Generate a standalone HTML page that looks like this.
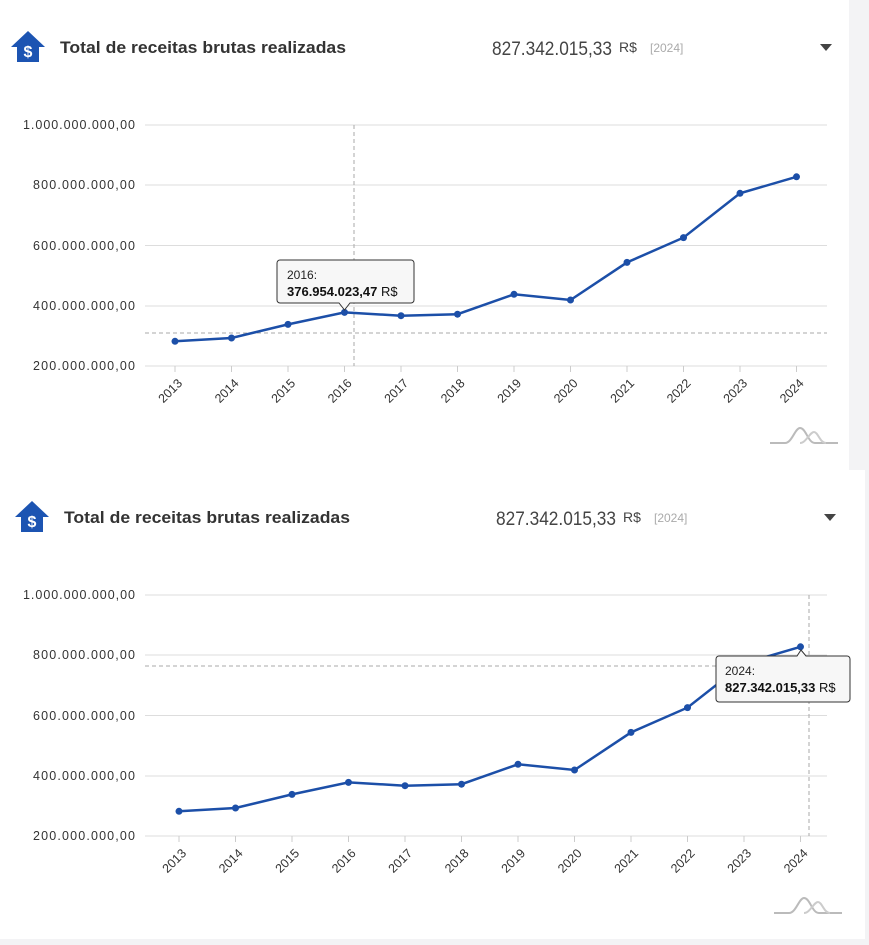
<!DOCTYPE html>
<html><head><meta charset="utf-8"><style>
body{margin:0;width:869px;height:945px;background:#f3f3f5;overflow:hidden;font-family:"Liberation Sans",sans-serif}
svg{display:block}
</style></head><body>
<svg width="869" height="945" viewBox="0 0 869 945" xmlns="http://www.w3.org/2000/svg" font-family="Liberation Sans, sans-serif">
<rect x="0" y="0" width="849" height="470" fill="#fff"/>
<rect x="0" y="470" width="865" height="469" fill="#fff"/>

<g id="p1">
<path d="M28 31 L45 47 L39 47 L39 62 L17 62 L17 47 L11 47 Z" fill="#1c54b2"/>
<text x="28" y="57" font-size="16" font-weight="bold" fill="#fff" text-anchor="middle">$</text>
<text x="60" y="53" font-size="17" font-weight="bold" fill="#333" textLength="286" lengthAdjust="spacingAndGlyphs">Total de receitas brutas realizadas</text>
<text x="492" y="55" font-size="19" fill="#444" textLength="120" lengthAdjust="spacingAndGlyphs">827.342.015,33</text>
<text x="619" y="52" font-size="14" fill="#444">R$</text>
<text x="650" y="52" font-size="12" fill="#aaa">[2024]</text>
<path d="M820 44 L832 44 L826 51 Z" fill="#444"/>
</g>

<g>
<g stroke="#ddd" stroke-width="1">
<line x1="145" y1="125" x2="827" y2="125"/><line x1="145" y1="185" x2="827" y2="185"/>
<line x1="145" y1="245.5" x2="827" y2="245.5"/><line x1="145" y1="306" x2="827" y2="306"/>
<line x1="145" y1="366" x2="827" y2="366"/>
</g>
<g font-size="12.5" fill="#333" text-anchor="end" lengthAdjust="spacingAndGlyphs">
<text x="135" y="129" textLength="112">1.000.000.000,00</text><text x="135" y="189" textLength="102">800.000.000,00</text>
<text x="135" y="250" textLength="102">600.000.000,00</text><text x="135" y="310" textLength="102">400.000.000,00</text>
<text x="135" y="370" textLength="102">200.000.000,00</text>
</g>
</g>

<g transform="translate(4,470)">
<g stroke="#ddd" stroke-width="1">
<line x1="141" y1="125" x2="823" y2="125"/><line x1="141" y1="185" x2="823" y2="185"/>
<line x1="141" y1="245.5" x2="823" y2="245.5"/><line x1="141" y1="306" x2="823" y2="306"/>
<line x1="141" y1="366" x2="823" y2="366"/>
</g>
<g font-size="12.5" fill="#333" text-anchor="end" lengthAdjust="spacingAndGlyphs">
<text x="131" y="129" textLength="112">1.000.000.000,00</text><text x="131" y="189" textLength="102">800.000.000,00</text>
<text x="131" y="250" textLength="102">600.000.000,00</text><text x="131" y="310" textLength="102">400.000.000,00</text>
<text x="131" y="370" textLength="102">200.000.000,00</text>
</g>
</g>

<g transform="translate(4,470)">
<path d="M28 31 L45 47 L39 47 L39 62 L17 62 L17 47 L11 47 Z" fill="#1c54b2"/>
<text x="28" y="57" font-size="16" font-weight="bold" fill="#fff" text-anchor="middle">$</text>
<text x="60" y="53" font-size="17" font-weight="bold" fill="#333" textLength="286" lengthAdjust="spacingAndGlyphs">Total de receitas brutas realizadas</text>
<text x="492" y="55" font-size="19" fill="#444" textLength="120" lengthAdjust="spacingAndGlyphs">827.342.015,33</text>
<text x="619" y="52" font-size="14" fill="#444">R$</text>
<text x="650" y="52" font-size="12" fill="#aaa">[2024]</text>
<path d="M820 44 L832 44 L826 51 Z" fill="#444"/>
</g>

<g stroke="#aaa" stroke-dasharray="4,3" stroke-width="1">
<line x1="354" y1="125" x2="354" y2="366"/><line x1="145" y1="333" x2="827" y2="333"/>
<line x1="809" y1="595" x2="809" y2="836"/><line x1="145" y1="666" x2="828" y2="666"/>
</g>

<g>
<polyline fill="none" stroke="#1c4fa8" stroke-width="2.5" points="175,341.3 231.5,338 288,324.4 344.5,312.4 401,315.7 457.5,314.2 514,294.3 570.5,300 627,262.4 683.5,237.6 740,193.3 796.5,176.8"/>
<g fill="#1c4fa8">
<circle cx="175" cy="341.3" r="3.5"/><circle cx="231.5" cy="338" r="3.5"/><circle cx="288" cy="324.4" r="3.5"/><circle cx="344.5" cy="312.4" r="3.5"/><circle cx="401" cy="315.7" r="3.5"/><circle cx="457.5" cy="314.2" r="3.5"/><circle cx="514" cy="294.3" r="3.5"/><circle cx="570.5" cy="300" r="3.5"/><circle cx="627" cy="262.4" r="3.5"/><circle cx="683.5" cy="237.6" r="3.5"/><circle cx="740" cy="193.3" r="3.5"/><circle cx="796.5" cy="176.8" r="3.5"/>
</g>
<g stroke="#ccc"><line x1="175" y1="366" x2="175" y2="372"/><line x1="231.5" y1="366" x2="231.5" y2="372"/><line x1="288" y1="366" x2="288" y2="372"/><line x1="344.5" y1="366" x2="344.5" y2="372"/><line x1="401" y1="366" x2="401" y2="372"/><line x1="457.5" y1="366" x2="457.5" y2="372"/><line x1="514" y1="366" x2="514" y2="372"/><line x1="570.5" y1="366" x2="570.5" y2="372"/><line x1="627" y1="366" x2="627" y2="372"/><line x1="683.5" y1="366" x2="683.5" y2="372"/><line x1="740" y1="366" x2="740" y2="372"/><line x1="796.5" y1="366" x2="796.5" y2="372"/></g>
<g font-size="12.5" fill="#333" text-anchor="end">
<text transform="translate(183,384) rotate(-45)">2013</text><text transform="translate(239.5,384) rotate(-45)">2014</text><text transform="translate(296,384) rotate(-45)">2015</text><text transform="translate(352.5,384) rotate(-45)">2016</text><text transform="translate(409,384) rotate(-45)">2017</text><text transform="translate(465.5,384) rotate(-45)">2018</text><text transform="translate(522,384) rotate(-45)">2019</text><text transform="translate(578.5,384) rotate(-45)">2020</text><text transform="translate(635,384) rotate(-45)">2021</text><text transform="translate(691.5,384) rotate(-45)">2022</text><text transform="translate(748,384) rotate(-45)">2023</text><text transform="translate(804.5,384) rotate(-45)">2024</text>
</g>
<g fill="none" stroke-width="2"><path d="M770 443 L785 443 C792 443 795 428 800 428 C806 428 808 443 815 443 L838 443" stroke="#bbb"/><path d="M800 443 C806 443 810 432 814 432 C818 432 820 443 826 443" stroke="#ccc"/></g>
</g>

<g transform="translate(4,470)">
<polyline fill="none" stroke="#1c4fa8" stroke-width="2.5" points="175,341.3 231.5,338 288,324.4 344.5,312.4 401,315.7 457.5,314.2 514,294.3 570.5,300 627,262.4 683.5,237.6 740,193.3 796.5,176.8"/>
<g fill="#1c4fa8">
<circle cx="175" cy="341.3" r="3.5"/><circle cx="231.5" cy="338" r="3.5"/><circle cx="288" cy="324.4" r="3.5"/><circle cx="344.5" cy="312.4" r="3.5"/><circle cx="401" cy="315.7" r="3.5"/><circle cx="457.5" cy="314.2" r="3.5"/><circle cx="514" cy="294.3" r="3.5"/><circle cx="570.5" cy="300" r="3.5"/><circle cx="627" cy="262.4" r="3.5"/><circle cx="683.5" cy="237.6" r="3.5"/><circle cx="740" cy="193.3" r="3.5"/><circle cx="796.5" cy="176.8" r="3.5"/>
</g>
<g stroke="#ccc"><line x1="175" y1="366" x2="175" y2="372"/><line x1="231.5" y1="366" x2="231.5" y2="372"/><line x1="288" y1="366" x2="288" y2="372"/><line x1="344.5" y1="366" x2="344.5" y2="372"/><line x1="401" y1="366" x2="401" y2="372"/><line x1="457.5" y1="366" x2="457.5" y2="372"/><line x1="514" y1="366" x2="514" y2="372"/><line x1="570.5" y1="366" x2="570.5" y2="372"/><line x1="627" y1="366" x2="627" y2="372"/><line x1="683.5" y1="366" x2="683.5" y2="372"/><line x1="740" y1="366" x2="740" y2="372"/><line x1="796.5" y1="366" x2="796.5" y2="372"/></g>
<g font-size="12.5" fill="#333" text-anchor="end">
<text transform="translate(183,384) rotate(-45)">2013</text><text transform="translate(239.5,384) rotate(-45)">2014</text><text transform="translate(296,384) rotate(-45)">2015</text><text transform="translate(352.5,384) rotate(-45)">2016</text><text transform="translate(409,384) rotate(-45)">2017</text><text transform="translate(465.5,384) rotate(-45)">2018</text><text transform="translate(522,384) rotate(-45)">2019</text><text transform="translate(578.5,384) rotate(-45)">2020</text><text transform="translate(635,384) rotate(-45)">2021</text><text transform="translate(691.5,384) rotate(-45)">2022</text><text transform="translate(748,384) rotate(-45)">2023</text><text transform="translate(804.5,384) rotate(-45)">2024</text>
</g>
<g fill="none" stroke-width="2"><path d="M770 443 L785 443 C792 443 795 428 800 428 C806 428 808 443 815 443 L838 443" stroke="#bbb"/><path d="M800 443 C806 443 810 432 814 432 C818 432 820 443 826 443" stroke="#ccc"/></g>
</g>

<path d="M280 260 H411 a3 3 0 0 1 3 3 V300 a3 3 0 0 1 -3 3 H350 L344.5 310 L339 303 H280 a3 3 0 0 1 -3 -3 V263 a3 3 0 0 1 3 -3 Z" fill="#f7f7f7" stroke="#333" stroke-width="1"/>
<text x="287" y="279" font-size="12" fill="#222">2016:</text>
<text x="287" y="296" font-size="13" fill="#111"><tspan font-weight="bold">376.954.023,47</tspan> R$</text>

<path d="M719 656 H797 L801 650 L806 656 H847 a3 3 0 0 1 3 3 V699 a3 3 0 0 1 -3 3 H719 a3 3 0 0 1 -3 -3 V659 a3 3 0 0 1 3 -3 Z" fill="#f7f7f7" stroke="#333" stroke-width="1"/>
<text x="725" y="675" font-size="12" fill="#222">2024:</text>
<text x="725" y="692" font-size="13" fill="#111"><tspan font-weight="bold">827.342.015,33</tspan> R$</text>
</svg>
</body></html>
